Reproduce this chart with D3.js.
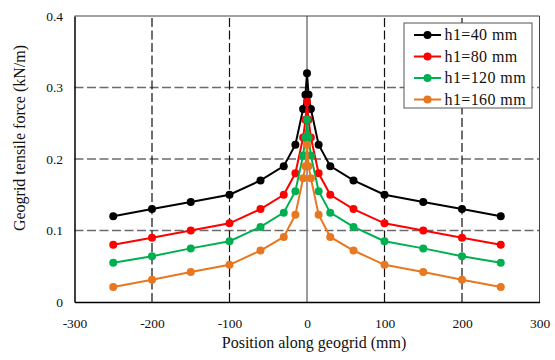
<!DOCTYPE html>
<html>
<head>
<meta charset="utf-8">
<script src="https://cdn.jsdelivr.net/npm/d3@7"></script>
<style>
  body { margin: 0; background: #fff; }
  svg { display: block; }
  svg text { font-family: "Liberation Serif", "Times New Roman", serif; }
</style>
</head>
<body>
<div class="chart"></div>
<script>
// positions along the geogrid (mm)
const positions = [-250, -200, -150, -100, -60, -30, -15, -5, -2, 0, 2, 5, 15, 30, 60, 100, 150, 200, 250];

// tensile force (kN/m) for each h1
const force40  = [0.12, 0.13, 0.14, 0.15, 0.17, 0.19, 0.22, 0.27, 0.29, 0.32, 0.29, 0.27, 0.22, 0.19, 0.17, 0.15, 0.14, 0.13, 0.12];
const force80  = [0.08, 0.09, 0.10, 0.11, 0.13, 0.15, 0.18, 0.23, 0.255, 0.28, 0.255, 0.23, 0.18, 0.15, 0.13, 0.11, 0.10, 0.09, 0.08];
const force120 = [0.055, 0.064, 0.075, 0.085, 0.105, 0.125, 0.155, 0.205, 0.23, 0.255, 0.23, 0.205, 0.155, 0.125, 0.105, 0.085, 0.075, 0.064, 0.055];
const force160 = [0.021, 0.031, 0.042, 0.052, 0.072, 0.091, 0.122, 0.173, 0.19, 0.22, 0.19, 0.173, 0.122, 0.091, 0.072, 0.052, 0.042, 0.031, 0.021];

const seriesNames = ["h1=40 mm", "h1=80 mm", "h1=120 mm", "h1=160 mm"];
const seriesColors = ["#000000", "#ff0000", "#00b050", "#e8771f"];

const xTicks = [-300, -200, -100, 0, 100, 200, 300];
const yTicks = [0, 0.1, 0.2, 0.3, 0.4];

const serif = "Liberation Serif";

var cfg = {
  width: 555,
  height: 360,
  margin: {top: 16, right: 15.5, bottom: 58, left: 74.5}
};

var scale = {
  x: d3.scaleLinear()
      .domain([-300, 300])
      .range([cfg.margin.left, cfg.width - cfg.margin.right]),
  y: d3.scaleLinear()
      .domain([0, 0.4])
      .range([cfg.height - cfg.margin.bottom, cfg.margin.top])
};

function initGrid(svg){
  var x0 = scale.x(-300), x1 = scale.x(300);
  var y0 = scale.y(0), y1 = scale.y(0.4);

  // horizontal dashed gridlines
  svg.append("g").selectAll("line")
    .data([0.1, 0.2, 0.3])
    .enter().append("line")
    .attr("x1", x0).attr("x2", x1)
    .attr("y1", d => scale.y(d)).attr("y2", d => scale.y(d))
    .attr("stroke", "#6b6b6b")
    .attr("stroke-width", 1.5)
    .attr("stroke-dasharray", "9,3.5");

  // vertical dashed gridlines
  svg.append("g").selectAll("line")
    .data([-200, -100, 100, 200])
    .enter().append("line")
    .attr("x1", d => scale.x(d)).attr("x2", d => scale.x(d))
    .attr("y1", y0).attr("y2", y1)
    .attr("stroke", "#111")
    .attr("stroke-width", 1.2)
    .attr("stroke-dasharray", "9,3.5");

  // solid line at position 0
  svg.append("line")
    .attr("x1", scale.x(0)).attr("x2", scale.x(0))
    .attr("y1", y0).attr("y2", y1)
    .attr("stroke", "#7a7a7a")
    .attr("stroke-width", 1.5);

  // top and right frame
  svg.append("path")
    .attr("d", `M${x0},${y1}H${x1}V${y0}`)
    .attr("fill", "none")
    .attr("stroke", "#444")
    .attr("stroke-width", 1);
}

function initAxis(svg){
  // x axis
  var gx = svg.append("g")
    .attr("transform", `translate(0, ${scale.y(0)})`)
    .call(d3.axisBottom(scale.x).tickValues(xTicks).tickSize(0).tickPadding(16).tickFormat(d => String(d)));
  gx.select(".domain").attr("stroke", "#000").attr("stroke-width", 1.5);

  // y axis
  var gy = svg.append("g")
    .attr("transform", `translate(${scale.x(-300)}, 0)`)
    .call(d3.axisLeft(scale.y).tickValues(yTicks).tickSize(0).tickPadding(11.5).tickFormat(d => d === 0 ? "0" : d3.format(".1f")(d)));
  gy.select(".domain").attr("stroke", "#000").attr("stroke-width", 1.5);

  [gx, gy].forEach(g => g.attr("font-family", serif).attr("font-size", 13.5));
  svg.selectAll(".tick text").attr("fill", "#111");

  // axis titles
  svg.append("text")
    .attr("x", 314)
    .attr("y", 348)
    .attr("text-anchor", "middle")
    .attr("font-family", serif)
    .attr("font-size", 16)
    .attr("fill", "#111")
    .text("Position along geogrid (mm)");

  svg.append("text")
    .attr("transform", "translate(25, 138) rotate(-90)")
    .attr("text-anchor", "middle")
    .attr("font-family", serif)
    .attr("font-size", 16)
    .attr("fill", "#111")
    .text("Geogrid tensile force (kN/m)");
}

function drawSeries(svg, values, color){
  var pts = positions.map((p, i) => ({x: p, y: values[i]}));
  var line = d3.line()
    .x(d => scale.x(d.x))
    .y(d => scale.y(d.y));

  var g = svg.append("g");
  g.append("path")
    .datum(pts)
    .attr("d", line)
    .attr("fill", "none")
    .attr("stroke", color)
    .attr("stroke-width", 2);

  g.selectAll("circle")
    .data(pts)
    .enter().append("circle")
    .attr("cx", d => scale.x(d.x))
    .attr("cy", d => scale.y(d.y))
    .attr("r", 4)
    .attr("fill", color);
}

function initLegend(svg){
  var legendG = svg.append("g")
    .attr("transform", "translate(404, 23)");

  legendG.append("rect")
    .attr("width", 128)
    .attr("height", 85)
    .attr("fill", "#fff")
    .attr("stroke", "#555")
    .attr("stroke-width", 1);

  var rows = legendG.selectAll(".row")
    .data(seriesNames)
    .enter().append("g")
    .attr("class", "row")
    .attr("transform", (d, i) => `translate(0, ${12 + i * 21.5})`);

  rows.append("line")
    .attr("x1", 10).attr("x2", 37)
    .attr("stroke", (d, i) => seriesColors[i])
    .attr("stroke-width", 2);

  rows.append("circle")
    .attr("cx", 23.5)
    .attr("r", 4)
    .attr("fill", (d, i) => seriesColors[i]);

  rows.append("text")
    .attr("x", 40.5)
    .attr("y", 5)
    .attr("font-family", serif)
    .attr("font-size", 16)
    .attr("letter-spacing", 0.4)
    .attr("fill", "#111")
    .text(d => d);
}

function createViz(){
  var svg = d3.select(".chart").append("svg")
    .attr("width", cfg.width)
    .attr("height", cfg.height);

  initGrid(svg);
  initAxis(svg);

  [force40, force80, force120, force160].forEach((vals, i) => drawSeries(svg, vals, seriesColors[i]));

  initLegend(svg);
}

createViz();
</script>
</body>
</html>
